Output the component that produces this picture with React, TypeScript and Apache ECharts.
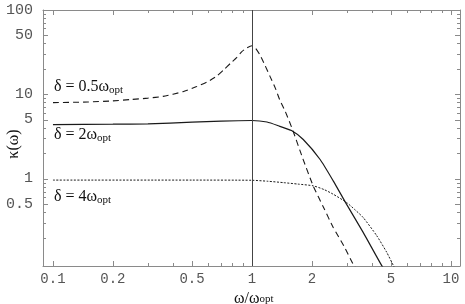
import React, { useEffect, useRef } from "react";
import * as echarts from "echarts";

// Curve δ = 0.5 ω_opt (dashed)
const dashedX = [0.1, 0.15, 0.2, 0.244, 0.3, 0.357, 0.45, 0.527, 0.6, 0.665, 0.72, 0.78, 0.84, 0.887, 0.94, 1.0, 1.04, 1.1, 1.16, 1.23, 1.31, 1.38, 1.47, 1.61, 1.8, 2.03, 2.3, 2.56, 2.9, 3.21, 3.45];
const dashedY = [8.0, 8.15, 8.4, 8.7, 9.05, 9.5, 10.8, 12.4, 14.2, 16.5, 19.5, 23.4, 27.5, 32, 35.5, 37.7, 35.5, 29, 22.4, 16.5, 11.9, 8.6, 6.3, 3.67, 1.75, 0.83, 0.45, 0.267, 0.16, 0.1, 0.075];

// Curve δ = 2 ω_opt (solid)
const solidX = [0.1, 0.2, 0.3, 0.5, 0.7, 1.0, 1.19, 1.38, 1.58, 1.81, 2.2, 2.56, 2.99, 3.62, 4.48, 4.8];
const solidY = [4.4, 4.45, 4.5, 4.7, 4.85, 4.92, 4.72, 4.2, 3.74, 2.93, 1.7, 0.95, 0.5, 0.233, 0.095, 0.075];

// Curve δ = 4 ω_opt (dotted)
const dottedX = [0.1, 0.5, 1.0, 1.2, 1.44, 1.7, 2.03, 2.3, 2.56, 2.99, 3.3, 3.62, 4.23, 4.75, 5.13, 5.4];
const dottedY = [0.97, 0.97, 0.965, 0.94, 0.905, 0.87, 0.83, 0.75, 0.66, 0.526, 0.43, 0.35, 0.214, 0.136, 0.095, 0.075];

// Ticks
const xMajorTicks = [0.1, 0.2, 0.5, 1, 2, 5, 10];
const xMajorLabels = ["0.1", "0.2", "0.5", "1", "2", "5", "10"];
const xMinorTicks = [0.3, 0.4, 0.6, 0.7, 0.8, 0.9, 3, 4, 6, 7, 8, 9];
const yMajorTicks = [0.5, 1, 5, 10, 50, 100];
const yMajorLabels = ["0.5", "1", "5", "10", "50", "100"];
const yMinorTicks = [0.2, 0.3, 0.4, 0.6, 0.7, 0.8, 0.9, 2, 3, 4, 6, 7, 8, 9, 20, 30, 40, 60, 70, 80, 90];

const xRange = [0.0891, 11.1];
const yRange = [0.0933, 100];

const lg = (v: number) => Math.log10(v);
const toPairs = (xs: number[], ys: number[]) => xs.map((x, i) => [lg(x), lg(ys[i])]);

const labelFor = (ticks: number[], labels: string[]) => (v: number) => {
  const i = ticks.findIndex((t) => Math.abs(lg(t) - v) < 1e-6);
  return i >= 0 ? labels[i] : "";
};

const frameColor = "#8a8a8a";
const lineColor = "#1a1a1a";
const monoFont = "'Liberation Mono', 'DejaVu Sans Mono', monospace";
const serifFont = "'Liberation Serif', 'DejaVu Serif', serif";

export default function App() {
  const ref = useRef<HTMLDivElement>(null);
  useEffect(() => {
    if (!ref.current) return;
    const chart = echarts.init(ref.current, undefined, { renderer: "svg" });

    const xAxisBase = (position: "bottom" | "top", major: boolean, showLine: boolean, showLabel: boolean) => ({
      type: "value",
      position,
      min: lg(xRange[0]),
      max: lg(xRange[1]),
      axisLine: { show: showLine, onZero: false, lineStyle: { color: frameColor, width: 1 } },
      axisTick: {
        show: true,
        inside: true,
        length: major ? 5 : 3,
        customValues: (major ? xMajorTicks : xMinorTicks).map(lg),
        lineStyle: { color: frameColor, width: 1 },
      },
      axisLabel: showLabel
        ? {
            show: true,
            customValues: xMajorTicks.map(lg),
            formatter: labelFor(xMajorTicks, xMajorLabels),
            fontFamily: monoFont,
            fontSize: 14,
            lineHeight: 12,
            color: "#555",
            margin: 7,
          }
        : { show: false },
      splitLine: { show: false },
    });

    const yAxisBase = (position: "left" | "right", major: boolean, showLine: boolean, showLabel: boolean) => ({
      type: "value",
      position,
      min: lg(yRange[0]),
      max: lg(yRange[1]),
      axisLine: { show: showLine, onZero: false, lineStyle: { color: frameColor, width: 1 } },
      axisTick: {
        show: true,
        inside: true,
        length: major ? 5 : 3,
        customValues: (major ? yMajorTicks : yMinorTicks).map(lg),
        lineStyle: { color: frameColor, width: 1 },
      },
      axisLabel: showLabel
        ? {
            show: true,
            customValues: yMajorTicks.map(lg),
            formatter: labelFor(yMajorTicks, yMajorLabels),
            fontFamily: monoFont,
            fontSize: 15,
            color: "#555",
            margin: 10,
          }
        : { show: false },
      splitLine: { show: false },
    });

    const subRich = {
      a: { fontFamily: serifFont, fontSize: 16, lineHeight: 18, fill: "#111", color: "#111" },
      s: { fontFamily: serifFont, fontSize: 11, lineHeight: 11, verticalAlign: "bottom", fill: "#111", color: "#111" },
    };

    const titleRich = {
      a: { fontFamily: serifFont, fontSize: 16, lineHeight: 12, fill: "#111", color: "#111" },
      s: { fontFamily: serifFont, fontSize: 11, lineHeight: 6, verticalAlign: "bottom", fill: "#111", color: "#111" },
    };

    const deltaText = (txt: string, y: number) => ({
      type: "text",
      left: 54,
      top: y - 9,
      style: {
        text: `{a|${txt}}{s|opt}`,
        rich: subRich,
        fill: "#111",
      },
    });

    chart.setOption({
      animation: false,
      grid: { left: 43, right: 5, top: 10, bottom: 38, containLabel: false },
      xAxis: [
        xAxisBase("bottom", true, true, true),
        xAxisBase("bottom", false, false, false),
        xAxisBase("top", true, true, false),
        xAxisBase("top", false, false, false),
      ],
      yAxis: [
        yAxisBase("left", true, true, true),
        yAxisBase("left", false, false, false),
        yAxisBase("right", true, true, false),
        yAxisBase("right", false, false, false),
      ],
      series: [
        {
          type: "line",
          xAxisIndex: 0,
          yAxisIndex: 0,
          data: toPairs(dashedX, dashedY),
          showSymbol: false,
          smooth: 0.2,
          clip: true,
          lineStyle: { color: lineColor, width: 1.1, type: [6, 4] },
          markLine: {
            silent: true,
            symbol: "none",
            label: { show: false },
            lineStyle: { color: "#444", width: 1, type: "solid" },
            data: [{ xAxis: 0 }],
          },
        },
        {
          type: "line",
          xAxisIndex: 0,
          yAxisIndex: 0,
          data: toPairs(solidX, solidY),
          showSymbol: false,
          smooth: 0.2,
          clip: true,
          lineStyle: { color: lineColor, width: 1.2, type: "solid" },
        },
        {
          type: "line",
          xAxisIndex: 0,
          yAxisIndex: 0,
          data: toPairs(dottedX, dottedY),
          showSymbol: false,
          smooth: 0.2,
          clip: true,
          lineStyle: { color: lineColor, width: 1, type: [2, 1.5] },
        },
      ],
      graphic: [
        deltaText("δ = 0.5ω", 86),
        deltaText("δ = 2ω", 134),
        deltaText("δ = 4ω", 196),
        {
          type: "text",
          left: 234,
          top: 289,
          style: { text: "{a|ω/ω}{s|opt}", rich: titleRich, fill: "#111" },
        },
        {
          type: "text",
          x: 12,
          y: 144,
          rotation: Math.PI / 2,
          style: {
            text: "κ(ω)",
            fontFamily: serifFont,
            fontSize: 16,
            fill: "#111",
            align: "center",
            verticalAlign: "middle",
          },
        },
      ],
    });
    return () => chart.dispose();
  }, []);
  return (
    <div
      ref={ref}
      style={{ position: "fixed", left: 0, top: 0, width: 465, height: 304 }}
    />
  );
}
